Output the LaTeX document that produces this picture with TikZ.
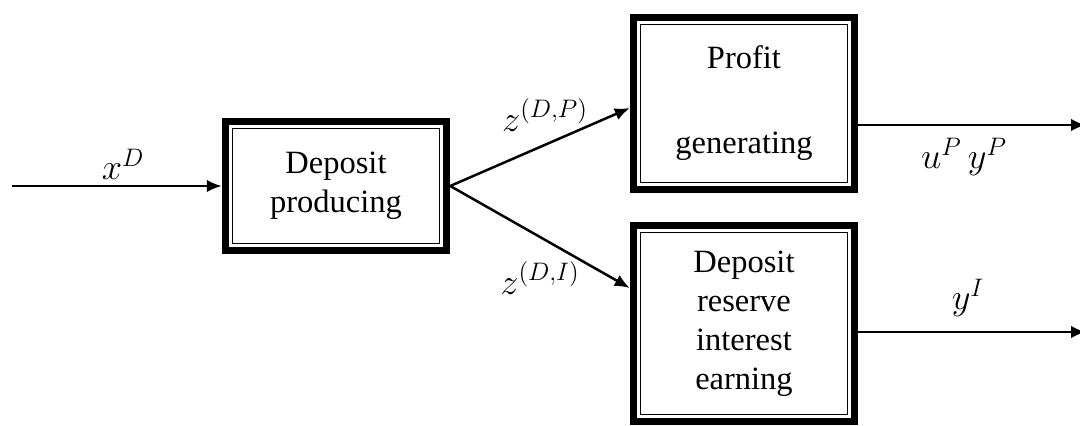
\documentclass[tikz,border=0pt]{standalone}
\usepackage{fontspec}
\setmainfont{Liberation Serif}
\usetikzlibrary{arrows.meta}

\tikzset{
  procbox/.style={draw, line width=0.15cm, minimum width=4.42cm, inner sep=0pt,
    align=center, font=\fontsize{18.5}{22.2}\selectfont},
  flow/.style={line width=0.05cm, -{Latex[length=0.3cm,width=0.25cm]}},
  lbl/.style={font=\fontsize{20}{24}\selectfont},
}

\begin{document}
\begin{tikzpicture}[x=0.02cm, y=-0.02cm]
        \useasboundingbox (0, 0) rectangle (1080, 426);

        % Stages
        \node[procbox, minimum height=2.58cm] (prod) at (336, 186) {Deposit\\producing};
        \node[procbox, minimum height=3.44cm] (prof) at (744, 103.5) {Profit\\[0.92cm]generating};
        \node[procbox, minimum height=3.92cm] (res) at (744, 323.5) {Deposit\\reserve\\interest\\earning};
        \foreach \b in {prod, prof, res} {
            \draw[line width=0.03cm] ([shift={(10.5, 10.5)}]\b.north west) rectangle ([shift={(-10.5, -10.5)}]\b.south east);
        }

        % Flows
        \coordinate (in) at (12, 186);
        \coordinate (outP) at (1086, 125);
        \coordinate (outI) at (1086, 332);
        \draw[flow] (in) -- (prod.west);
        \draw[flow] (prod.east) -- ([yshift=-0.09cm]prof.west);
        \draw[flow] (prod.east) -- ([yshift=0.71cm]res.west);
        \draw[flow] (prof.east |- outP) -- (outP);
        \draw[flow] (res.east |- outI) -- (outI);

        % Labels
        \node[lbl] (xD) at (123, 164) {$x^D$};
        \node[lbl] (zDP) at (545, 115) {$z^{(D,P)}$};
        \node[lbl] (zDI) at (540, 278) {$z^{(D,I)}$};
        \node[lbl] (uy) at (964, 157) {$u^P\,y^P$};
        \node[lbl] (yI) at (968, 298) {$y^I$};
\end{tikzpicture}
\end{document}
